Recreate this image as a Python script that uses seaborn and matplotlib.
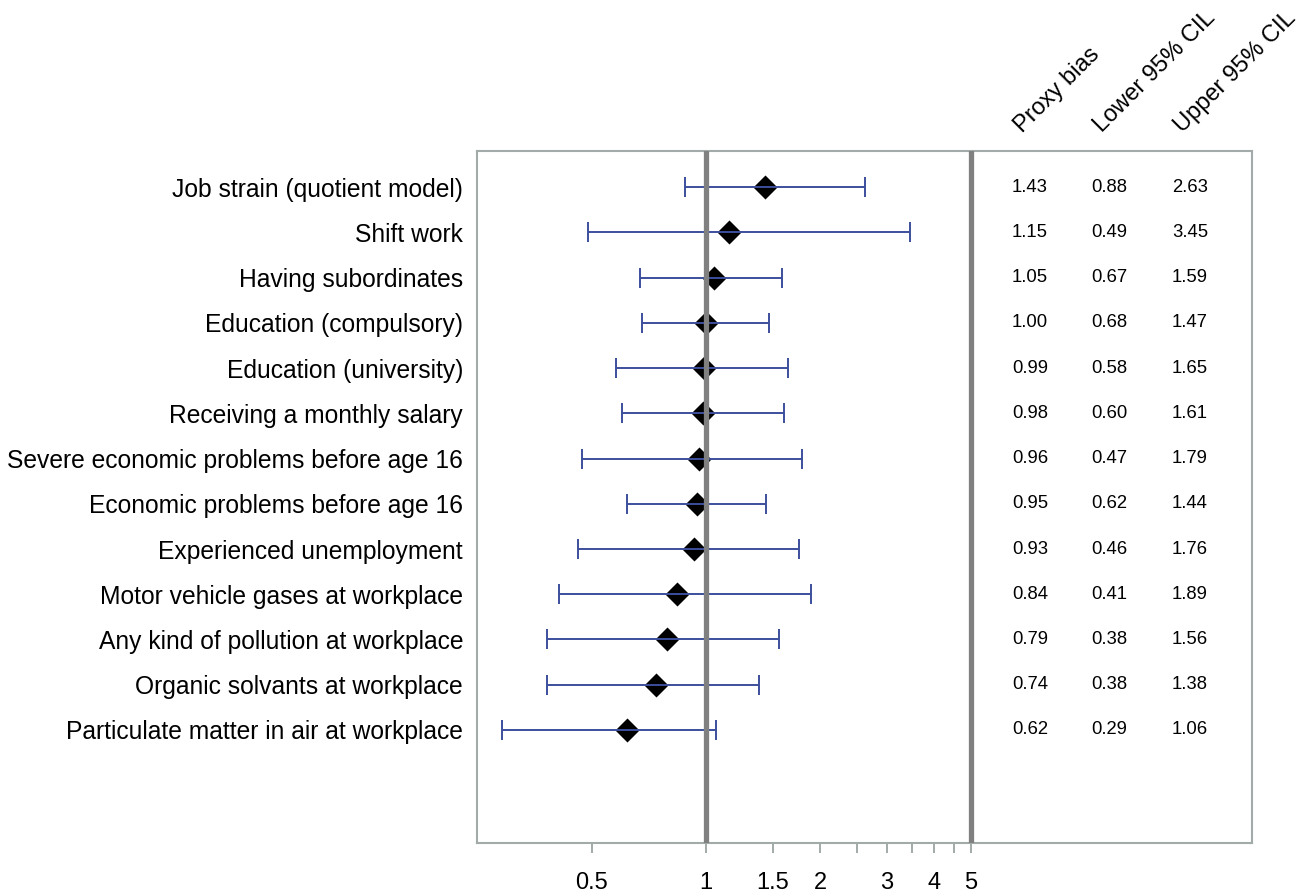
import matplotlib
matplotlib.use("Agg")
import matplotlib.pyplot as plt
import matplotlib.transforms as mtransforms
import seaborn as sns
import pandas as pd

# Exposure variables and proxy-bias estimates with 95% confidence limits
exposures = [
    "Job strain (quotient model)",
    "Shift work",
    "Having subordinates",
    "Education (compulsory)",
    "Education (university)",
    "Receiving a monthly salary",
    "Severe economic problems before age 16",
    "Economic problems before age 16",
    "Experienced unemployment",
    "Motor vehicle gases at workplace",
    "Any kind of pollution at workplace",
    "Organic solvants at workplace",
    "Particulate matter in air at workplace",
]
proxy_bias = [1.43, 1.15, 1.05, 1.00, 0.99, 0.98, 0.96, 0.95, 0.93, 0.84, 0.79, 0.74, 0.62]
lower_cil = [0.88, 0.49, 0.67, 0.68, 0.58, 0.60, 0.47, 0.62, 0.46, 0.41, 0.38, 0.38, 0.29]
upper_cil = [2.63, 3.45, 1.59, 1.47, 1.65, 1.61, 1.79, 1.44, 1.76, 1.89, 1.56, 1.38, 1.06]

column_headers = ["Proxy bias", "Lower 95% CIL", "Upper 95% CIL"]
tick_values = [0.5, 1, 1.5, 2, 2.5, 3, 3.5, 4, 4.5, 5]
tick_labels = ["0.5", "1", "1.5", "2", "", "3", "", "4", "", "5"]

df = pd.DataFrame({
    "exposure": exposures,
    "bias": proxy_bias,
    "lower": lower_cil,
    "upper": upper_cil,
})
df["row"] = range(len(df))

sns.set_theme(style="white")
plt.rcParams["font.family"] = ["Liberation Sans", "DejaVu Sans"]

fig = plt.figure(figsize=(13.03, 8.92), dpi=100)
ax = fig.add_axes([0.366, 0.0549, 0.595, 0.7758])

frame_col = "#a2aaaa"
blue = "#3c4f9c"
ref_grey = "#808080"

# point estimates
sns.scatterplot(data=df, x="bias", y="row", marker="D", s=150, color="black",
                edgecolor="black", linewidth=0, ax=ax, zorder=2, legend=False)

# confidence intervals
ax.errorbar(df["bias"], df["row"],
            xerr=[df["bias"] - df["lower"], df["upper"] - df["bias"]],
            fmt="none", ecolor=blue, elinewidth=1.4, capsize=7.5, capthick=1.4,
            zorder=3)

# reference lines
ax.axvline(1, color=ref_grey, lw=3.8, zorder=4)
ax.axvline(5, color=ref_grey, lw=3.8, zorder=4)

ax.set_xscale("log")
ax.set_xlim(0.2488, 27.6)
ax.set_ylim(14.5, -0.8)

ax.set_xticks(tick_values)
ax.set_xticklabels(tick_labels, fontsize=17)
ax.xaxis.set_minor_locator(matplotlib.ticker.NullLocator())
ax.tick_params(axis="x", which="major", direction="out", length=7.5, width=1.4,
               color=frame_col, pad=13, labelcolor="black", bottom=True)

ax.set_yticks(df["row"])
ax.set_yticklabels(df["exposure"], fontsize=17.7)
ax.tick_params(axis="y", length=0, pad=10, labelcolor="black")

ax.set_xlabel("")
ax.set_ylabel("")

for sp in ax.spines.values():
    sp.set_color(frame_col)
    sp.set_linewidth(1.5)
    sp.set_visible(True)

# table of values to the right of the reference line at 5
col_x = [7.16, 11.6, 18.9]
for i, r in df.iterrows():
    for cx, val in zip(col_x, (r["bias"], r["lower"], r["upper"])):
        ax.text(cx, r["row"], f"{val:.2f}", ha="center", va="center",
                fontsize=13.3, color="black")

# rotated column headers above the table
trans = mtransforms.blended_transform_factory(ax.transData, ax.transAxes)
head_x = [6.82, 11.07, 18.06]
for hx, h in zip(head_x, column_headers):
    ax.text(hx, 1.026, h, transform=trans, rotation=45, rotation_mode="anchor",
            ha="left", va="baseline", fontsize=17, color="black")

fig.savefig("out.png", dpi=100, facecolor="white")
